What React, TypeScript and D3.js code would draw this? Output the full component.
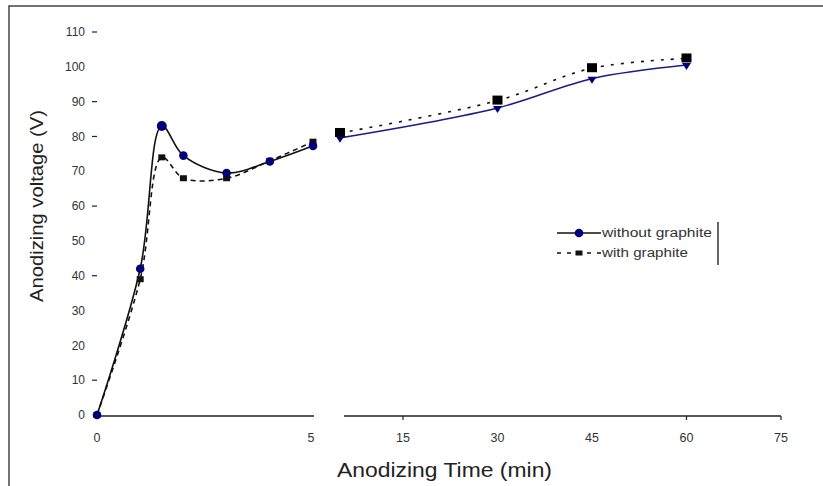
import React from 'react';
import * as d3 from 'd3';

// ---- data ----
const timesEarly = [0, 1, 1.5, 2, 3, 4, 5];
const withoutEarly = [0, 42, 83, 74.5, 69.5, 72.8, 77.3];
const withEarly = [0, 39, 74, 68, 68, 73, 78.5];

const timesLate = [5, 30, 45, 60];
const withoutLate = [79.6, 88.2, 96.6, 100.5];
const withLate = [81, 90.3, 99.6, 102.4];

const yTicks = [0, 10, 20, 30, 40, 50, 60, 70, 80, 90, 100, 110];
const yTickMarks = [10, 40, 60, 80, 90, 110];
const xTicksEarly = [0, 5];
const xTicksLate = [15, 30, 45, 60, 75];
const xTickMarksLate = [15, 60, 75];

const seriesNames = ['without graphite', 'with graphite'];
const xTitle = 'Anodizing Time (min)';
const yTitle = 'Anodizing voltage (V)';

export default function App() {
  const W = 823, H = 486;
  const y = d3.scaleLinear().domain([0, 110]).range([415, 32]);
  const x1 = d3.scaleLinear().domain([0, 5]).range([97, 313]);
  const x2 = d3.scaleLinear().domain([5, 75]).range([340, 781]);

  const line1 = d3.line<[number, number]>().x(d => x1(d[0])).y(d => y(d[1])).curve(d3.curveCatmullRom.alpha(0.5));
  const line2 = d3.line<[number, number]>().x(d => x2(d[0])).y(d => y(d[1])).curve(d3.curveCatmullRom.alpha(0.5));

  const woE: [number, number][] = timesEarly.map((t, i) => [t, withoutEarly[i]]);
  const wE: [number, number][] = timesEarly.map((t, i) => [t, withEarly[i]]);
  const woL: [number, number][] = timesLate.map((t, i) => [t, withoutLate[i]]);
  const wL: [number, number][] = timesLate.map((t, i) => [t, withLate[i]]);

  const font = '"Liberation Sans", Arial, sans-serif';
  const blue = '#00007a';
  const axisY = y(0) + 1;

  return (
    <svg width={W} height={H} style={{ position: 'absolute', left: 0, top: 0, background: '#fff' }} fontFamily={font}>
      {/* frame */}
      <path d={`M9,${H} L9,6 L${W},6`} fill="none" stroke="#444" strokeWidth={1.5} />

      {/* y ticks labels */}
      {yTicks.map(v => (
        <text key={'yl' + v} x={85} y={y(v)} dy="0.35em" textAnchor="end" fontSize={12} fill="#333">{v}</text>
      ))}
      {yTickMarks.map(v => (
        <line key={'yt' + v} x1={92} x2={97} y1={y(v)} y2={y(v)} stroke="#222" strokeWidth={1.2} />
      ))}

      {/* x axis segments */}
      <line x1={x1(0)} x2={x1(5) + 1} y1={axisY} y2={axisY} stroke="#222" strokeWidth={1.5} />
      <line x1={x2(5) + 4} x2={x2(75)} y1={axisY} y2={axisY} stroke="#222" strokeWidth={1.5} />
      {xTickMarksLate.map(v => (
        <line key={'xt' + v} x1={x2(v)} x2={x2(v)} y1={axisY} y2={axisY + 4} stroke="#222" strokeWidth={1.2} />
      ))}
      {xTicksEarly.map(v => (
        <text key={'xe' + v} x={x1(v) - (v === 5 ? 2 : 0)} y={438} dy="0.35em" textAnchor="middle" fontSize={12.5} fill="#333">{v}</text>
      ))}
      {xTicksLate.map(v => (
        <text key={'xl' + v} x={x2(v)} y={438} dy="0.35em" textAnchor="middle" fontSize={12.5} fill="#333">{v}</text>
      ))}

      {/* titles */}
      <text x={337} y={476.5} fontSize={20.5} fill="#222" textLength={215} lengthAdjust="spacingAndGlyphs">{xTitle}</text>
      <text transform={`translate(42.5,302) rotate(-90)`} fontSize={19} fill="#222" textLength={192} lengthAdjust="spacingAndGlyphs">{yTitle}</text>

      {/* early segment lines */}
      <path d={line1(woE) || ''} fill="none" stroke="#111" strokeWidth={1.6} />
      <path d={line1(wE) || ''} fill="none" stroke="#111" strokeWidth={1.6} strokeDasharray="5,4" />
      {/* late segment lines */}
      <path d={line2(woL) || ''} fill="none" stroke="#1c1c8a" strokeWidth={1.6} />
      <path d={line2(wL) || ''} fill="none" stroke="#111" strokeWidth={1.6} strokeDasharray="3,7" />

      {/* markers with graphite (early) */}
      {wE.map((d, i) => (
        <rect key={'we' + i} x={x1(d[0]) - 3.5} y={y(d[1]) - 3} width={7} height={6} fill="#111" />
      ))}
      {/* markers without graphite (early) */}
      {woE.map((d, i) => (
        <circle key={'woe' + i} cx={x1(d[0])} cy={y(d[1])} r={i === 2 ? 5 : 4.3} fill={blue} />
      ))}
      {/* late markers */}
      {woL.map((d, i) => (
        <path key={'wol' + i} d={`M${x2(d[0]) - 4.5},${y(d[1]) - 2} L${x2(d[0]) + 4.5},${y(d[1]) - 2} L${x2(d[0])},${y(d[1]) + 5} Z`} fill={blue} />
      ))}
      {wL.map((d, i) => (
        <rect key={'wl' + i} x={x2(d[0]) - 5} y={y(d[1]) - 5} width={10} height={9} fill="#000" />
      ))}

      {/* legend */}
      <line x1={557} x2={601} y1={233} y2={233} stroke="#111" strokeWidth={1.6} />
      <circle cx={579} cy={233} r={4.3} fill={blue} />
      <text x={602} y={233} dy="0.35em" fontSize={12} fill="#333" textLength={110} lengthAdjust="spacingAndGlyphs">{seriesNames[0]}</text>
      <line x1={557} x2={601} y1={253} y2={253} stroke="#111" strokeWidth={1.6} strokeDasharray="4,6" />
      <rect x={575.5} y={250.5} width={7} height={5} fill="#111" />
      <text x={602} y={253} dy="0.35em" fontSize={12} fill="#333" textLength={86} lengthAdjust="spacingAndGlyphs">{seriesNames[1]}</text>
      <line x1={718} x2={718} y1={222} y2={265} stroke="#333" strokeWidth={1.5} />
    </svg>
  );
}
